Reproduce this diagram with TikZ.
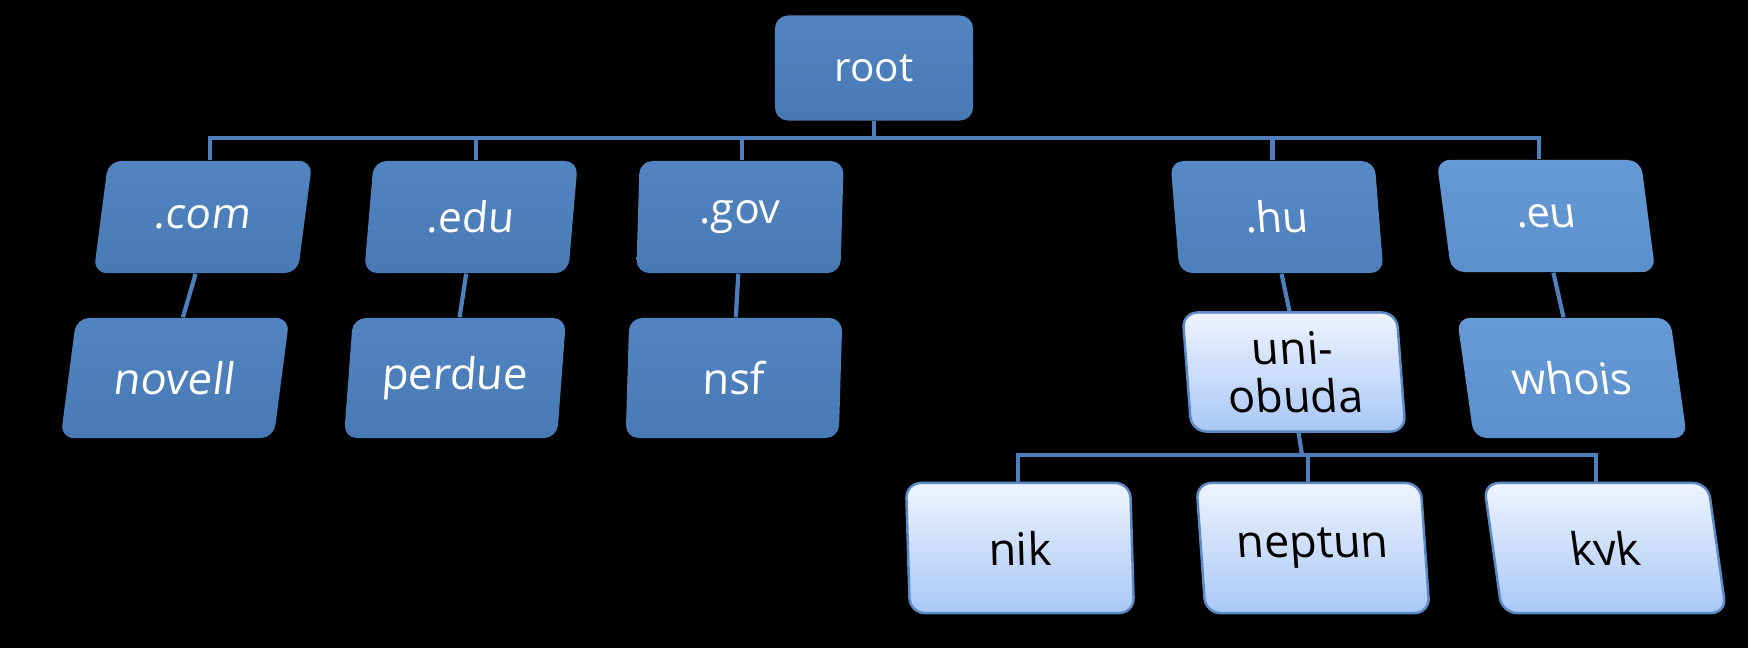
\documentclass[tikz,border=0pt]{standalone}
\usepackage{fontspec}
\setmainfont{Open Sans}
\usepackage{xcolor}
\usepackage{tikz}

\definecolor{boxblue}{HTML}{4C80BF}
\definecolor{boxbluelt}{HTML}{6097D6}
\definecolor{linkblue}{HTML}{4F7FBA}
\definecolor{paletop}{HTML}{EEF4FE}
\definecolor{palebot}{HTML}{A9C7F6}
\definecolor{paleedge}{HTML}{5C8AC4}

\begin{document}
\begin{tikzpicture}[
    x=0.01cm,
    y=-0.01cm,
    dom/.style={
        rounded corners=0.13cm,
        top color=#1!97!white,
        bottom color=#1!95!black,
        text=white,
        inner sep=0pt,
        font=\fontsize{12}{13}\selectfont
    },
    dom/.default=boxblue,
    tld/.style={
        minimum width=2.04cm,
        minimum height=1.12cm
    },
    sld/.style={
        minimum width=2.13cm,
        minimum height=1.2cm,
        font=\fontsize{12.4}{13}\selectfont
    },
    host/.style={
        rounded corners=0.15cm,
        draw=paleedge,
        line width=0.7pt,
        top color=paletop,
        bottom color=palebot,
        text=black,
        align=center,
        inner sep=0pt,
        minimum width=2.24cm,
        minimum height=1.3cm,
        font=\fontsize{12.8}{13.5}\selectfont
    },
    link/.style={
        draw=linkblue,
        line width=1.2pt
    }
]

% Background
\fill[black] (0,0) rectangle (1748,648);

% Root
\node[dom, minimum width=1.98cm, minimum height=1.05cm,
    font=\fontsize{11.5}{13}\selectfont] (root) at (874,68) {root};

% Top level domains
\node[dom, tld, xslant=0.13] (com) at (203,217) {.com};
\node[dom, tld, xslant=0.085] (edu) at (471,217) {.edu};
\node[dom, tld, xslant=0.03] (gov) at (740,217) {.gov};
\node[dom=boxblue!75!boxbluelt, tld, xslant=-0.08] (hu) at (1277,217) {.hu};
\node[dom=boxbluelt, tld, xslant=-0.13] (eu) at (1546,216) {.eu};

% Second level
\node[dom, sld, xslant=0.13] (novell) at (175,378) {novell};
\node[dom, sld, xslant=0.075] (perdue) at (455,378) {perdue};
\node[dom, sld, xslant=0.03] (nsf) at (734,378) {nsf};
\node[host, minimum width=2.14cm, minimum height=1.19cm, xslant=-0.075]
    (obuda) at (1294,372) {uni-\\obuda};
\node[dom=boxbluelt, sld, xslant=-0.14] (whois) at (1572,378) {whois};

% Hosts
\node[host, xslant=-0.03] (nik) at (1020,548) {nik};
\node[host, xslant=-0.07] (neptun) at (1313,548) {neptun};
\node[host, xslant=-0.14] (kvk) at (1605,548) {kvk};

% Links root
\coordinate (bus1) at (874,138);
\draw[link] (root.south) -- (bus1);
\foreach \n in {com,edu,gov,hu,eu}
    \draw[link] (bus1) -| (\n.north);

% Links second level
\draw[link] (com.south) -- (novell.north);
\draw[link] (edu.south) -- (perdue.north);
\draw[link] (gov.south) -- (nsf.north);
\draw[link] (hu.south) -- (obuda.north);
\draw[link] (eu.south) -- (whois.north);

% Links hosts
\coordinate (bus2) at (1302,455);
\draw[link] (obuda.south) -- (bus2);
\foreach \n in {nik,neptun,kvk}
    \draw[link] (bus2) -| (\n.north);

\end{tikzpicture}
\end{document}
